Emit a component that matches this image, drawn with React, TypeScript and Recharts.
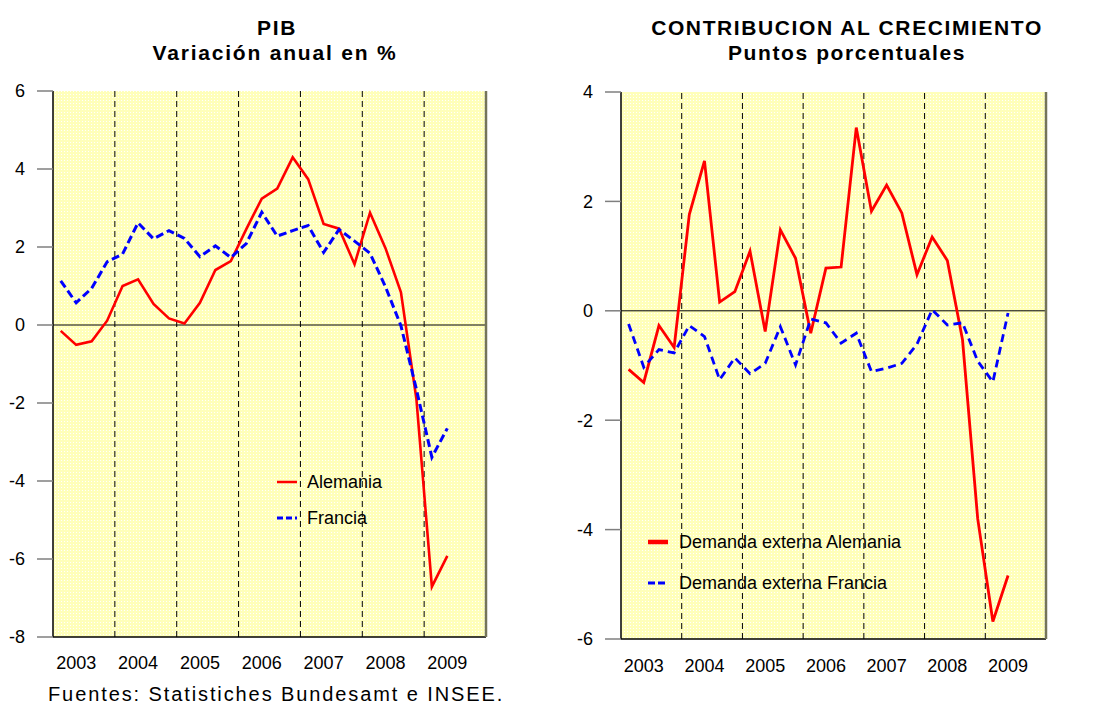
import React from 'react';
import { LineChart, Line, XAxis, YAxis, CartesianGrid, ReferenceLine, Legend } from 'recharts';

// ---- data ----
const years = ['2003', '2004', '2005', '2006', '2007', '2008', '2009'];

const pibAlemania = [-0.15, -0.51, -0.42, 0.11, 1.0, 1.17, 0.54, 0.17, 0.04, 0.57, 1.41, 1.64, 2.46, 3.24, 3.5, 4.3, 3.74, 2.59, 2.47, 1.56, 2.88, 1.97, 0.84, -1.9, -6.71, -5.92];
const pibFrancia = [1.13, 0.57, 0.94, 1.62, 1.82, 2.62, 2.21, 2.42, 2.22, 1.75, 2.03, 1.73, 2.09, 2.89, 2.28, 2.42, 2.55, 1.86, 2.45, 2.15, 1.84, 0.98, -0.02, -1.65, -3.39, -2.65];

const demandaAlemania = [-1.07, -1.31, -0.27, -0.67, 1.76, 2.74, 0.16, 0.35, 1.09, -0.38, 1.48, 0.96, -0.41, 0.78, 0.8, 3.35, 1.82, 2.3, 1.79, 0.66, 1.35, 0.92, -0.53, -3.8, -5.68, -4.84];
const demandaFrancia = [-0.24, -1.03, -0.71, -0.77, -0.27, -0.47, -1.26, -0.86, -1.15, -0.96, -0.29, -0.99, -0.15, -0.22, -0.59, -0.41, -1.11, -1.05, -0.96, -0.61, 0.02, -0.26, -0.22, -0.92, -1.3, -0.04];

const pibTicks = [-8, -6, -4, -2, 0, 2, 4, 6];
const contribTicks = [-6, -4, -2, 0, 2, 4];

const pibTitle = ['PIB', 'Variación anual en %'];
const contribTitle = ['CONTRIBUCION AL CRECIMIENTO', 'Puntos porcentuales'];
const sourceNote = 'Fuentes: Statistiches Bundesamt e INSEE.';

const pibNames = ['Alemania', 'Francia'];
const contribNames = ['Demanda externa Alemania', 'Demanda externa Francia'];

// ---- derived ----
const Q = 4;
const xDomain: [number, number] = [-0.5, years.length * Q - 0.5];
const yearTicks = years.map((_, k) => k * Q + 1);
const yearBounds = years.slice(1).map((_, k) => k * Q + 3.5);
const yearLabel = (v: number) => years[Math.round((v - 1) / Q)] ?? '';

const pibData = pibAlemania.map((v, i) => ({ q: i, a: v, f: pibFrancia[i] }));
const contribData = demandaAlemania.map((v, i) => ({ q: i, a: v, f: demandaFrancia[i] }));

const FONT = '"Liberation Sans", Arial, Helvetica, sans-serif';
const RED = '#FF0000';
const BLUE = '#0000FF';
const TICKGRAY = '#7f7f7f';
const OLIVE = '#74745a';

type LegItem = { label: string; color: string; width: number; dash?: string };

const LegendBox = ({ items, gap, sample, textGap }: { items: LegItem[]; gap: number; sample: number; textGap: number }) => (
  <div style={{ fontFamily: FONT, fontSize: 18, color: '#000', lineHeight: 1 }}>
    {items.map((it) => (
      <div key={it.label} style={{ display: 'flex', alignItems: 'center', height: gap, whiteSpace: 'nowrap' }}>
        <svg width={sample} height={10} style={{ display: 'block' }}>
          <line x1={0} x2={sample} y1={5} y2={5} stroke={it.color} strokeWidth={it.width} strokeDasharray={it.dash} />
        </svg>
        <span style={{ marginLeft: textGap }}>{it.label}</span>
      </div>
    ))}
  </div>
);

const DotPattern = ({ id }: { id: string }) => (
  <defs>
    <pattern id={id} x={0} y={0} width={3} height={3} patternUnits="userSpaceOnUse">
      <rect x={0} y={0} width={3} height={3} fill="#FFFFBA" />
      <rect x={1} y={1} width={1} height={1} fill="#FFFFFF" />
    </pattern>
  </defs>
);

const tickStyle = { fill: '#000', fontSize: 18, fontFamily: FONT };

export default function App() {
  return (
    <div style={{ position: 'absolute', left: 0, top: 0, width: 1120, height: 704, background: '#fff', fontFamily: FONT }}>
      {/* Left chart */}
      <div style={{ position: 'absolute', left: 0, top: 0 }}>
        <LineChart width={540} height={704} data={pibData} margin={{ top: 91, right: 0, bottom: 27, left: 0 }}>
          <DotPattern id="dotsL" />
          <CartesianGrid fill="url(#dotsL)" horizontal={false} vertical={false} />
          <XAxis
            type="number"
            dataKey="q"
            domain={xDomain}
            ticks={yearTicks}
            interval={0}
            tickFormatter={yearLabel}
            tickLine={false}
            tickSize={6}
            tickMargin={13}
            height={40}
            axisLine={{ stroke: '#000', strokeWidth: 1.5 }}
            tick={tickStyle}
          />
          <YAxis
            domain={[-8, 6]}
            ticks={pibTicks}
            interval={0}
            width={53}
            tickSize={16}
            tickMargin={12}
            tickLine={{ stroke: TICKGRAY, strokeWidth: 1.5 }}
            axisLine={{ stroke: '#000', strokeWidth: 1.5 }}
            tick={tickStyle}
          />
          <YAxis
            yAxisId="r"
            orientation="right"
            domain={[-8, 6]}
            ticks={pibTicks}
            interval={0}
            width={54}
            tickSize={14}
            tickMargin={10}
            tickLine={{ stroke: TICKGRAY, strokeWidth: 1.5 }}
            axisLine={{ stroke: OLIVE, strokeWidth: 2.5 }}
            tick={{ ...tickStyle, textAnchor: 'start' }}
          />
          {yearBounds.map((b) => (
            <ReferenceLine key={b} x={b} stroke="#000" strokeWidth={1} strokeDasharray="6 4" />
          ))}
          <ReferenceLine y={0} stroke="#000" strokeWidth={1} />
          <Line dataKey="a" name={pibNames[0]} stroke={RED} strokeWidth={2.6} dot={false} isAnimationActive={false} />
          <Line dataKey="f" name={pibNames[1]} stroke={BLUE} strokeWidth={3} strokeDasharray="8 4" dot={false} isAnimationActive={false} />
          <Legend
            layout="vertical"
            align="center"
            verticalAlign="middle"
            wrapperStyle={{ left: 277, top: 464, width: 'auto' }}
            content={() => (
              <LegendBox
                gap={36}
                sample={20}
                textGap={10}
                items={[
                  { label: pibNames[0], color: RED, width: 2.5 },
                  { label: pibNames[1], color: BLUE, width: 3, dash: '6 3' },
                ]}
              />
            )}
          />
        </LineChart>
      </div>

      {/* Right chart */}
      <div style={{ position: 'absolute', left: 560, top: 0 }}>
        <LineChart width={560} height={704} data={contribData} margin={{ top: 92, right: 0, bottom: 25, left: 0 }}>
          <DotPattern id="dotsR" />
          <CartesianGrid fill="url(#dotsR)" horizontal={false} vertical={false} />
          <XAxis
            type="number"
            dataKey="q"
            domain={xDomain}
            ticks={yearTicks}
            interval={0}
            tickFormatter={yearLabel}
            tickLine={false}
            tickSize={6}
            tickMargin={14}
            height={40}
            axisLine={{ stroke: '#000', strokeWidth: 1.5 }}
            tick={tickStyle}
          />
          <YAxis
            domain={[-6, 4]}
            ticks={contribTicks}
            interval={0}
            width={61}
            tickSize={16}
            tickMargin={12}
            tickLine={{ stroke: TICKGRAY, strokeWidth: 1.5 }}
            axisLine={{ stroke: '#000', strokeWidth: 1.5 }}
            tick={tickStyle}
          />
          <YAxis
            yAxisId="r"
            orientation="right"
            domain={[-6, 4]}
            ticks={contribTicks}
            interval={0}
            width={74}
            tickSize={13}
            tickMargin={15}
            tickLine={{ stroke: TICKGRAY, strokeWidth: 1.5 }}
            axisLine={{ stroke: OLIVE, strokeWidth: 2.5 }}
            tick={{ ...tickStyle, textAnchor: 'start' }}
          />
          {yearBounds.map((b) => (
            <ReferenceLine key={b} x={b} stroke="#000" strokeWidth={1} strokeDasharray="6 4" />
          ))}
          <ReferenceLine y={0} stroke="#000" strokeWidth={1} />
          <Line dataKey="a" name={contribNames[0]} stroke={RED} strokeWidth={2.8} dot={false} isAnimationActive={false} />
          <Line dataKey="f" name={contribNames[1]} stroke={BLUE} strokeWidth={2.8} strokeDasharray="8 5" dot={false} isAnimationActive={false} />
          <Legend
            layout="vertical"
            align="center"
            verticalAlign="middle"
            wrapperStyle={{ left: 88, top: 521, width: 'auto' }}
            content={() => (
              <LegendBox
                gap={41}
                sample={20}
                textGap={11}
                items={[
                  { label: contribNames[0], color: RED, width: 4.5 },
                  { label: contribNames[1], color: BLUE, width: 3, dash: '7 3' },
                ]}
              />
            )}
          />
        </LineChart>
      </div>

      {/* Titles and source */}
      <svg width={1120} height={704} style={{ position: 'absolute', left: 0, top: 0, pointerEvents: 'none' }}>
        <g fontFamily={FONT} fontWeight="bold" fontSize={21} fill="#000" textAnchor="middle">
          <text x={277} y={35} letterSpacing={1.6}>{pibTitle[0]}</text>
          <text x={275} y={60} letterSpacing={1.8}>{pibTitle[1]}</text>
          <text x={847} y={35} letterSpacing={1.6}>{contribTitle[0]}</text>
          <text x={847} y={60} letterSpacing={1.6}>{contribTitle[1]}</text>
        </g>
        <text x={48} y={701} fontFamily={FONT} fontSize={20} letterSpacing={1.9} fill="#000">{sourceNote}</text>
      </svg>
    </div>
  );
}
